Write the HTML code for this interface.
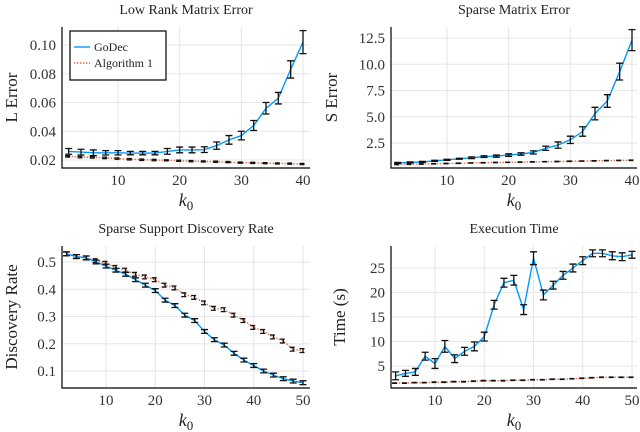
<!DOCTYPE html>
<html><head><meta charset="utf-8"><style>
body{margin:0;background:#fff;}
svg{display:block;font-family:"Liberation Serif",serif;}
</style></head><body>
<svg id="c" width="640" height="432" viewBox="0 0 640 432"></svg>
<script>
// Panel 1: Low rank matrix error
const k40 = [2,4,6,8,10,12,14,16,18,20,22,24,26,28,30,32,34,36,38,40];
const k50 = [2,4,6,8,10,12,14,16,18,20,22,24,26,28,30,32,34,36,38,40,42,44,46,48,50];
const lGodec = [0.026,0.0255,0.025,0.025,0.025,0.0248,0.0248,0.0248,0.026,0.027,0.027,0.0272,0.030,0.034,0.037,0.044,0.056,0.063,0.083,0.102];
const lGodecErr = [0.002,0.002,0.002,0.0015,0.0015,0.0012,0.0012,0.0012,0.002,0.002,0.002,0.002,0.0025,0.003,0.003,0.0035,0.004,0.004,0.006,0.008];
const lAlg = [0.0225,0.022,0.0218,0.0215,0.021,0.0205,0.0202,0.02,0.0198,0.0195,0.0192,0.019,0.0188,0.0185,0.0182,0.018,0.0178,0.0176,0.0175,0.0172];
const lAlgErr = [0.0005,0.0005,0.0005,0.0005,0.0005,0.0005,0.0005,0.0005,0.0004,0.0004,0.0004,0.0004,0.0004,0.0004,0.0004,0.0004,0.0004,0.0004,0.0004,0.0004];
const lTicksY = [0.02,0.04,0.06,0.08,0.10];
const lTickLabels = ["0.02","0.04","0.06","0.08","0.10"];
// Panel 2: Sparse matrix error
const sGodec = [0.6,0.65,0.7,0.8,0.9,1.0,1.1,1.2,1.25,1.35,1.45,1.6,2.0,2.3,2.8,3.6,5.3,6.5,9.3,12.3];
const sGodecErr = [0.05,0.05,0.05,0.05,0.05,0.05,0.08,0.08,0.1,0.12,0.12,0.15,0.2,0.3,0.35,0.45,0.6,0.6,0.8,1.0];
const sAlg = [0.45,0.48,0.5,0.52,0.55,0.57,0.6,0.62,0.64,0.66,0.68,0.7,0.72,0.74,0.76,0.78,0.8,0.82,0.84,0.86];
const sAlgErr = [0.02,0.02,0.02,0.02,0.02,0.02,0.02,0.02,0.02,0.02,0.02,0.02,0.02,0.02,0.02,0.02,0.02,0.02,0.02,0.02];
const sTicksY = [2.5,5.0,7.5,10.0,12.5];
const sTickLabels = ["2.5","5.0","7.5","10.0","12.5"];
// Panel 3: Discovery rate
const dGodec = [0.53,0.52,0.515,0.5,0.485,0.47,0.455,0.435,0.415,0.395,0.36,0.34,0.305,0.285,0.245,0.215,0.195,0.165,0.14,0.12,0.1,0.085,0.072,0.063,0.057];
const dAlg = [0.53,0.52,0.515,0.505,0.495,0.48,0.47,0.455,0.445,0.435,0.415,0.405,0.38,0.37,0.35,0.33,0.325,0.305,0.285,0.26,0.245,0.225,0.21,0.18,0.175];
const dErr = [0.007,0.007,0.007,0.007,0.007,0.007,0.007,0.007,0.007,0.007,0.007,0.007,0.007,0.007,0.007,0.007,0.007,0.007,0.007,0.007,0.007,0.007,0.007,0.007,0.007];
const dTicksY = [0.1,0.2,0.3,0.4,0.5];
const dTickLabels = ["0.1","0.2","0.3","0.4","0.5"];
// Panel 4: Execution time
const tGodec = [3,3.5,3.8,7,5.5,9,6.5,8,9,11,17.5,22,22.5,16.5,27,19.5,21.5,23.5,25,26.5,28,28,27.5,27.3,27.7];
const tGodecErr = [0.8,0.6,0.7,0.8,1.0,1.2,0.8,0.8,0.9,0.9,0.9,0.9,1.0,1.0,1.3,1.0,0.8,0.8,0.8,0.8,0.7,0.7,0.8,0.8,0.7];
const tAlg = [1.5,1.5,1.6,1.6,1.7,1.7,1.8,1.8,1.9,2.0,2.0,2.0,2.1,2.1,2.2,2.2,2.3,2.3,2.4,2.5,2.6,2.7,2.7,2.7,2.7];
const tAlgErr = [0.05,0.05,0.05,0.05,0.05,0.05,0.05,0.05,0.05,0.05,0.05,0.05,0.05,0.05,0.05,0.05,0.05,0.05,0.05,0.05,0.05,0.05,0.05,0.05,0.05];
const tTicksY = [5,10,15,20,25];
const tTickLabels = ["5","10","15","20","25"];
const xTicks40 = [10,20,30,40];
const xTicks50 = [10,20,30,40,50];

const NS="http://www.w3.org/2000/svg";
const svg=document.getElementById('c');
function mk(tag,attrs,parent,text){const e=document.createElementNS(NS,tag);for(const k in attrs)e.setAttribute(k,attrs[k]);if(text!==undefined)e.textContent=text;(parent||svg).appendChild(e);return e;}

function panel(o){
  const g=mk('g',{});
  
  
  const sx=v=>o.x0+(v-o.xa)*(o.x1-o.x0)/(o.xb-o.xa);
  const sy=v=>o.y0+(v-o.ya)*(o.y1-o.y0)/(o.yb-o.ya);
  // grid
  o.xt.forEach(v=>{const l=mk('line',{x1:sx(v),x2:sx(v),y1:o.top,y2:o.bottom,stroke:'#e6e6e6','stroke-width':1},g);});
  o.yt.forEach(v=>{const l=mk('line',{x1:o.left,x2:o.right,y1:sy(v),y2:sy(v),stroke:'#e6e6e6','stroke-width':1},g);});
  // axes
  const ax=mk('path',{d:`M${o.left},${o.top}V${o.bottom}H${o.right}`,fill:'none',stroke:'#000','stroke-width':1.2},g);
  
  o.xt.forEach(v=>{const t=mk('text',{x:sx(v),y:o.bottom+17,'text-anchor':'middle','font-size':15,fill:'#333'},g,String(v));});
  o.yt.forEach((v,i)=>{const t=mk('text',{x:o.left-6,y:sy(v)+5,'text-anchor':'end','font-size':15,fill:'#333'},g,o.yl[i]);});
  const ti=mk('text',{x:(o.left+o.right)/2,y:o.top-13,'text-anchor':'middle','font-size':14,fill:'#222'},g,o.title);
  
  const xl=mk('text',{x:(o.left+o.right)/2,y:o.bottom+38,'text-anchor':'middle','font-size':18,'font-style':'italic',fill:'#222'},g,'k');
  
  mk('tspan',{dy:4,'font-size':13,'font-style':'normal'},xl,'0');
  const cy=(o.top+o.bottom)/2;
  const yl=mk('text',{x:0,y:0,'text-anchor':'middle','font-size':17,fill:'#222',transform:`translate(${o.ylx},${cy}) rotate(-90)`},g,o.ytitle);
  
  // series
  function series(vals,errs,color,dash,sname){
    const d=o.k.map((k,i)=>(i?'L':'M')+sx(k).toFixed(1)+','+sy(vals[i]).toFixed(1)).join('');
    const p=mk('path',{d,fill:'none',stroke:color,'stroke-width':1.4,'stroke-dasharray':dash},g);
    
    o.k.forEach((k,i)=>{
      const x=sx(k),a=sy(vals[i]-errs[i]),b=sy(vals[i]+errs[i]);
      const e=mk('path',{d:`M${x},${a}V${b}M${x-3.5},${a}H${x+3.5}M${x-3.5},${b}H${x+3.5}`,stroke:'#111','stroke-width':1.3,fill:'none','stroke-dasharray':dash?'5,2':''},g);
      
    });
  }
  series(o.alg,o.algErr,'#e26f46','1.5,1.5','algorithm1');
  series(o.god,o.godErr,'#009af9','','godec');
  return g;
}

panel({name:'low-rank-error-panel',title:'Low Rank Matrix Error',ytitle:'L Error',ylx:17,
  left:62,right:310,top:27,bottom:168,x0:118,x1:303,xa:10,xb:40,y0:160,y1:45,ya:0.02,yb:0.10,
  k:k40,xt:xTicks40,yt:lTicksY,yl:lTickLabels,god:lGodec,godErr:lGodecErr,alg:lAlg,algErr:lAlgErr});
panel({name:'sparse-error-panel',title:'Sparse Matrix Error',ytitle:'S Error',ylx:337,
  left:391,right:637,top:27,bottom:168,x0:447,x1:632,xa:10,xb:40,y0:143,y1:38,ya:2.5,yb:12.5,
  k:k40,xt:xTicks40,yt:sTicksY,yl:sTickLabels,god:sGodec,godErr:sGodecErr,alg:sAlg,algErr:sAlgErr});
panel({name:'discovery-rate-panel',title:'Sparse Support Discovery Rate',ytitle:'Discovery Rate',ylx:17,
  left:62,right:310,top:246,bottom:388,x0:106,x1:303,xa:10,xb:50,y0:262,y1:371,ya:0.5,yb:0.1,
  k:k50,xt:xTicks50,yt:dTicksY,yl:dTickLabels,god:dGodec,godErr:dErr,alg:dAlg,algErr:dErr});
panel({name:'execution-time-panel',title:'Execution Time',ytitle:'Time (s)',ylx:345,
  left:391,right:637,top:246,bottom:388,x0:435,x1:632,xa:10,xb:50,y0:366,y1:268,ya:5,yb:25,
  k:k50,xt:xTicks50,yt:tTicksY,yl:tTickLabels,god:tGodec,godErr:tGodecErr,alg:tAlg,algErr:tAlgErr});

// legend
const lg=mk('g',{});


mk('rect',{x:70,y:31,width:96,height:49,fill:'#fff',stroke:'#000','stroke-width':1.2},lg);
const e1=mk('g',{},lg);


mk('line',{x1:74,x2:90,y1:47,y2:47,stroke:'#009af9','stroke-width':1.4},e1);
mk('text',{x:94,y:51,'font-size':12,fill:'#222'},e1,'GoDec');
const e2=mk('g',{},lg);


mk('line',{x1:74,x2:90,y1:63,y2:63,stroke:'#e26f46','stroke-width':1.4,'stroke-dasharray':'1.5,1.5'},e2);
mk('text',{x:94,y:67,'font-size':12,fill:'#222'},e2,'Algorithm 1');
</script>
</body></html>
